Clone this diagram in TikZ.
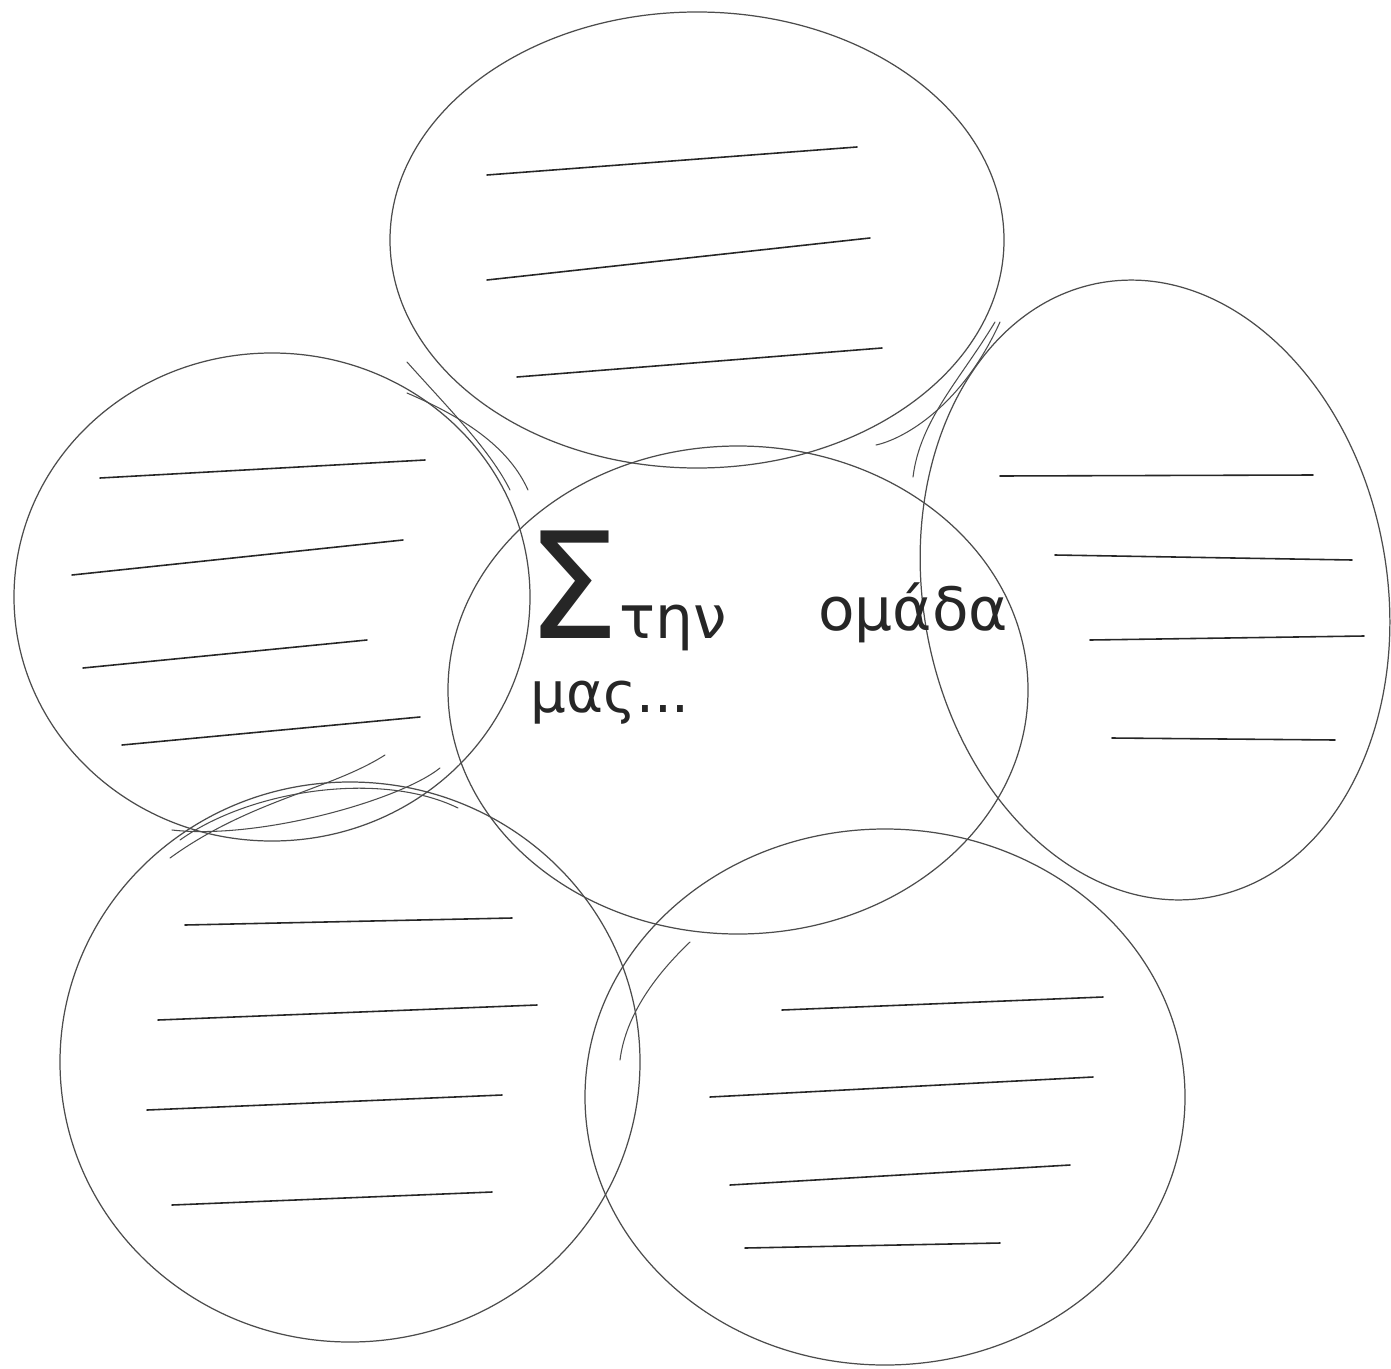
\documentclass[tikz,border=0pt]{standalone}
\usepackage{fontspec}
\setmainfont{DejaVu Sans}
\begin{document}
\begin{tikzpicture}[x=0.02cm,y=-0.02cm,
  petal/.style={draw=black!70,line width=0.7pt},
  wline/.style={draw=black!85,line width=0.9pt,line cap=round},
  scrib/.style={draw=black!70,line width=0.6pt,line cap=round},
  hand/.style={inner sep=0pt,anchor=base west,text=black!85}]
\useasboundingbox[fill=white] (0,0) rectangle (1391,1368);
% petals
\draw[petal] (697,240) ellipse [x radius=307, y radius=228];
\draw[petal] (272,597) ellipse [x radius=258, y radius=244];
\begin{scope}[shift={(1155,590)},rotate=10]
\draw[petal] (0,0) ellipse [x radius=232, y radius=312];
\end{scope}
\draw[petal] (350,1062) ellipse [x radius=290, y radius=280];
\draw[petal] (885,1097) ellipse [x radius=300, y radius=268];
% centre
\draw[petal] (738,690) ellipse [x radius=290, y radius=244];
% scribbles at overlaps
\draw[scrib] (407,393) .. controls (470,420) and (510,450) .. (528,490);
\draw[scrib] (407,362) .. controls (450,410) and (490,450) .. (510,490);
\draw[scrib] (172,830) .. controls (260,840) and (400,800) .. (440,768);
\draw[scrib] (180,840) .. controls (250,790) and (380,770) .. (458,808);
\draw[scrib] (170,858) .. controls (250,800) and (330,790) .. (385,755);
\draw[scrib] (876,445) .. controls (900,440) and (960,410) .. (1000,322);
\draw[scrib] (913,477) .. controls (920,420) and (960,380) .. (995,322);
\draw[scrib] (690,942) .. controls (650,980) and (625,1020) .. (620,1060);
% lines - top
\draw[wline] (487,175) -- (857,147);
\draw[wline] (487,280) -- (870,238);
\draw[wline] (517,377) -- (882,348);
% left
\draw[wline] (100,478) -- (425,460);
\draw[wline] (72,575) -- (403,540);
\draw[wline] (83,668) -- (367,640);
\draw[wline] (122,745) -- (420,717);
% right
\draw[wline] (1000,476) -- (1313,475);
\draw[wline] (1055,555) -- (1352,560);
\draw[wline] (1090,640) -- (1364,636);
\draw[wline] (1112,738) -- (1335,740);
% bottom-left
\draw[wline] (185,925) -- (512,918);
\draw[wline] (158,1020) -- (537,1005);
\draw[wline] (147,1110) -- (502,1095);
\draw[wline] (172,1205) -- (492,1192);
% bottom-right
\draw[wline] (782,1010) -- (1103,997);
\draw[wline] (710,1097) -- (1093,1077);
\draw[wline] (730,1185) -- (1070,1165);
\draw[wline] (745,1248) -- (1000,1243);
% text
\node[hand] (t1) at (526,638) {\fontsize{84}{84}\selectfont Σ\fontsize{34}{34}\selectfont την};
\node[hand] (t2) at (818,630) {\fontsize{34}{34}\selectfont ομάδα};
\node[hand] (t3) at (530,712) {\fontsize{32}{32}\selectfont μας...};
\end{tikzpicture}
\end{document}
